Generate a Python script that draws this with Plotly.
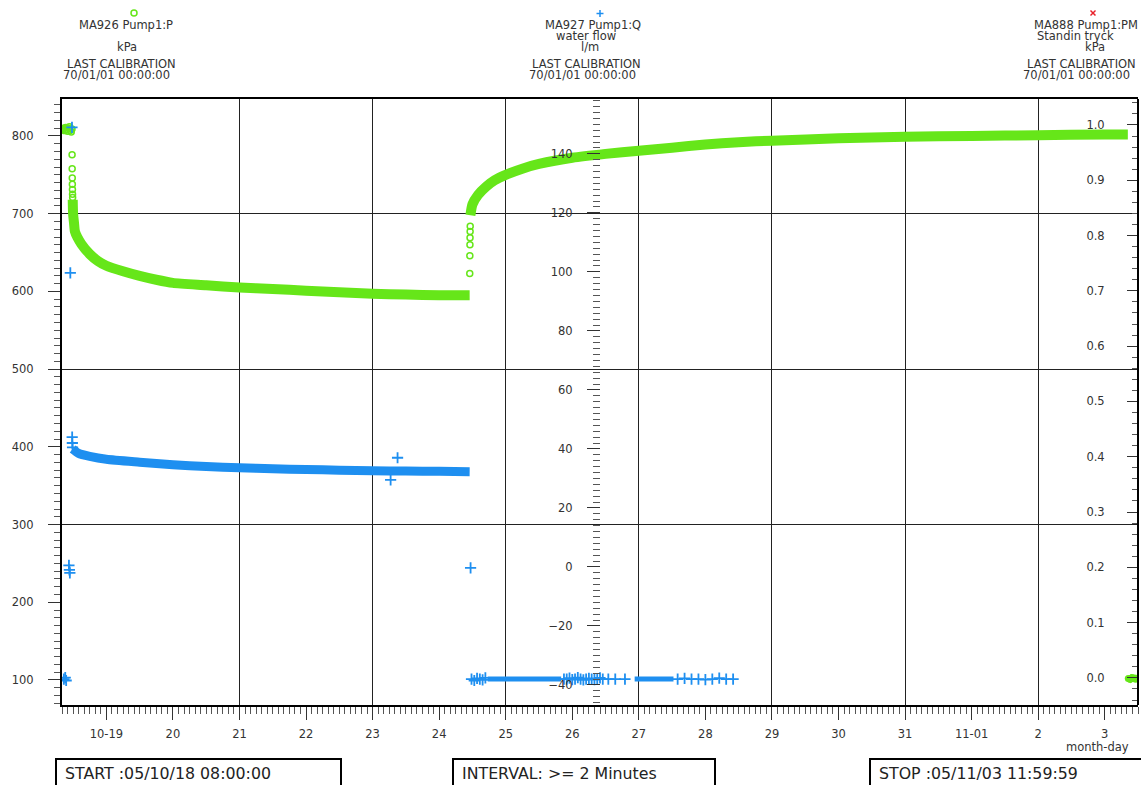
import plotly.graph_objects as go

# ---------------- data ----------------
X_TICKS = ['2005-10-19', '2005-10-20', '2005-10-21', '2005-10-22', '2005-10-23',
           '2005-10-24', '2005-10-25', '2005-10-26', '2005-10-27', '2005-10-28',
           '2005-10-29', '2005-10-30', '2005-10-31', '2005-11-01', '2005-11-02',
           '2005-11-03']
X_LABELS = ['10-19', '20', '21', '22', '23', '24', '25', '26', '27', '28', '29',
            '30', '31', '11-01', '2', '3']
X_GRID = ['2005-10-21', '2005-10-23', '2005-10-25', '2005-10-27', '2005-10-29',
          '2005-10-31', '2005-11-02']
Y_GRID = [300, 500, 700]

# MA926 Pump1:P  (kPa, left axis)
g_start_t = ['2005-10-18 08:00', '2005-10-18 08:20', '2005-10-18 08:40', '2005-10-18 09:00',
             '2005-10-18 09:20', '2005-10-18 09:40', '2005-10-18 10:00', '2005-10-18 10:20',
             '2005-10-18 10:40', '2005-10-18 11:00', '2005-10-18 11:20', '2005-10-18 11:36']
g_start_v = [809, 808, 810, 807, 811, 808, 806, 810, 812, 807, 805, 809]
g_drop_t = ['2005-10-18 11:38', '2005-10-18 11:40', '2005-10-18 11:42', '2005-10-18 11:44',
            '2005-10-18 11:46', '2005-10-18 11:48', '2005-10-18 11:50']
g_drop_v = [776, 758, 746, 738, 731, 725, 721]
g_band1_t = ['2005-10-18 11:52', '2005-10-18 12:00', '2005-10-18 12:20', '2005-10-18 12:40',
             '2005-10-18 13:30', '2005-10-18 15:00', '2005-10-18 18:00', '2005-10-18 21:00',
             '2005-10-19 00:00', '2005-10-19 06:00', '2005-10-19 12:00', '2005-10-19 18:00',
             '2005-10-20 00:00', '2005-10-20 12:00', '2005-10-21 00:00', '2005-10-21 12:00',
             '2005-10-22 00:00', '2005-10-22 12:00', '2005-10-23 00:00', '2005-10-23 12:00',
             '2005-10-24 00:00', '2005-10-24 11:00']
g_band1_v = [718, 700, 688, 677, 670, 661, 648, 639, 633, 626, 620, 615, 611, 608,
             605, 603, 601, 599, 597, 596, 595, 595]
g_jump_t = ['2005-10-24 11:02', '2005-10-24 11:04', '2005-10-24 11:06', '2005-10-24 11:08',
            '2005-10-24 11:10', '2005-10-24 11:12']
g_jump_v = [623, 646, 660, 669, 677, 684]
g_band2_t = ['2005-10-24 11:16', '2005-10-24 12:00', '2005-10-24 14:00', '2005-10-24 17:00',
             '2005-10-24 20:00', '2005-10-25 00:00', '2005-10-25 06:00', '2005-10-25 12:00',
             '2005-10-26 00:00', '2005-10-26 12:00', '2005-10-27 00:00', '2005-10-27 12:00',
             '2005-10-28 00:00', '2005-10-28 12:00', '2005-10-29 00:00', '2005-10-30 00:00',
             '2005-10-31 00:00', '2005-11-01 00:00', '2005-11-02 00:00', '2005-11-03 00:00',
             '2005-11-03 08:20']
g_band2_v = [698, 712, 724, 735, 743, 750, 758, 764, 772, 777, 781, 785, 789, 792,
             794, 797, 799, 800, 801, 802, 802]
g_end_t = ['2005-11-03 08:30', '2005-11-03 09:10', '2005-11-03 09:50', '2005-11-03 10:30',
           '2005-11-03 11:10', '2005-11-03 11:50']
g_end_v = [102, 101, 103, 102, 101, 102]

# MA927 Pump1:Q  water flow (l/m, middle axis)
b_out_t = ['2005-10-18 08:40', '2005-10-18 09:10', '2005-10-18 09:30', '2005-10-18 10:30',
           '2005-10-18 10:40', '2005-10-18 10:50', '2005-10-18 11:00', '2005-10-18 11:36',
           '2005-10-18 11:40', '2005-10-18 11:44', '2005-10-18 11:48']
b_out_v = [-38, -37.5, -38.5, 0.5, -1, -2, 99.7, 149, 44, 42, 40.5]
b_band1_t = ['2005-10-18 11:50', '2005-10-18 14:00', '2005-10-18 18:00', '2005-10-19 00:00',
             '2005-10-19 12:00', '2005-10-20 00:00', '2005-10-20 12:00', '2005-10-21 00:00',
             '2005-10-21 12:00', '2005-10-22 00:00', '2005-10-22 12:00', '2005-10-23 00:00',
             '2005-10-23 12:00', '2005-10-24 00:00', '2005-10-24 11:00']
b_band1_v = [40, 38.5, 37.5, 36.5, 35.5, 34.6, 34, 33.6, 33.3, 33, 32.8, 32.6,
             32.5, 32.4, 32.3]
b_spike_t = ['2005-10-23 06:30', '2005-10-23 09:00', '2005-10-24 11:20']
b_spike_v = [29.5, 37, -0.3]
b_low1_t = ['2005-10-24 17:30', '2005-10-25 06:00', '2005-10-25 20:00']
b_low1_v = [-38, -38, -38]
b_low2_t = ['2005-10-26 22:30', '2005-10-27 06:00', '2005-10-27 12:30']
b_low2_v = [-38, -38, -38]
b_lowx_t = ['2005-10-24 11:40', '2005-10-24 12:40', '2005-10-24 13:40', '2005-10-24 14:40',
            '2005-10-24 15:40', '2005-10-24 16:40',
            '2005-10-25 21:00', '2005-10-25 22:00', '2005-10-25 23:00', '2005-10-26 00:00',
            '2005-10-26 01:00', '2005-10-26 02:00', '2005-10-26 03:00', '2005-10-26 04:00',
            '2005-10-26 05:00', '2005-10-26 06:00', '2005-10-26 07:00', '2005-10-26 08:00',
            '2005-10-26 09:00', '2005-10-26 10:00', '2005-10-26 11:00',
            '2005-10-26 13:00', '2005-10-26 15:30', '2005-10-26 19:00',
            '2005-10-27 14:00', '2005-10-27 16:30', '2005-10-27 19:00', '2005-10-27 21:30',
            '2005-10-28 00:00', '2005-10-28 02:30', '2005-10-28 05:00', '2005-10-28 07:30',
            '2005-10-28 10:00']
b_lowx_v = [-38, -38.5, -37.8, -38, -38.3, -37.6,
            -38, -38, -37.7, -38.2, -38, -37.5, -38, -38.3, -38, -37.8, -38, -38.2,
            -38, -37.6, -38,
            -38, -38, -38,
            -38, -37.8, -38, -38, -38.2, -38, -37.7, -38, -38]

# ---------------- layout helpers ----------------
W, H = 1141, 785
ML, MR, MT, MB = 62, 3, 99, 80
PW, PH = W - ML - MR, H - MT - MB


def px(x):
    return (x - ML) / PW


def py(y):
    return (H - MB - y) / PH


GREEN = '#66E619'
BLUE = '#1E8FF0'
RED = '#E8212A'
FONT = 'DejaVu Sans'
TXT = '#333333'
XR = ['2005-10-18 08:00', '2005-11-03 12:00']
YR = [67.8, 847.6]

fig = go.Figure()


def green_markers(t, v):
    fig.add_trace(go.Scatter(x=t, y=v, mode='markers', yaxis='y',
                             marker=dict(symbol='circle-open', size=6, color=GREEN,
                                         line=dict(width=1.5, color=GREEN))))


def green_band(t, v):
    fig.add_trace(go.Scatter(x=t, y=v, mode='lines', yaxis='y',
                             line=dict(color=GREEN, width=10, shape='spline', smoothing=0.6)))


green_markers(g_start_t, g_start_v)
green_markers(g_drop_t, g_drop_v)
green_band(g_band1_t, g_band1_v)
green_markers(g_jump_t, g_jump_v)
green_band(g_band2_t, g_band2_v)
fig.add_trace(go.Scatter(x=g_end_t, y=g_end_v, mode='lines+markers', yaxis='y',
                         line=dict(color=GREEN, width=7),
                         marker=dict(symbol='circle', size=7, color=GREEN)))


def blue_markers(t, v):
    fig.add_trace(go.Scatter(x=t, y=v, mode='markers', yaxis='y2',
                             marker=dict(symbol='cross-thin-open', size=8, color=BLUE,
                                         line=dict(width=1.8, color=BLUE))))


def blue_band(t, v, w):
    fig.add_trace(go.Scatter(x=t, y=v, mode='lines', yaxis='y2',
                             line=dict(color=BLUE, width=w, shape='spline', smoothing=0.6)))


blue_band(b_band1_t, b_band1_v, 9)
blue_markers(b_out_t, b_out_v)
blue_markers(b_spike_t, b_spike_v)
blue_band(b_low1_t, b_low1_v, 5)
blue_band(b_low2_t, b_low2_v, 5)
blue_markers(b_lowx_t, b_lowx_v)

# helper traces so the grid-only / right axes are drawn
fig.add_trace(go.Scatter(x=[None], y=[None], xaxis='x2', yaxis='y', hoverinfo='skip'))
fig.add_trace(go.Scatter(x=[None], y=[None], xaxis='x', yaxis='y4', hoverinfo='skip'))
fig.add_trace(go.Scatter(x=[None], y=[None], xaxis='x', yaxis='y3', hoverinfo='skip'))

tickfont = dict(family=FONT, size=11.5, color=TXT)

fig.update_layout(
    width=W, height=H, margin=dict(l=ML, r=MR, t=MT, b=MB, pad=0),
    paper_bgcolor='white', plot_bgcolor='white', showlegend=False,
    font=dict(family=FONT, size=11.5, color=TXT),
    xaxis=dict(type='date', range=XR, tickmode='array', tickvals=X_TICKS, ticktext=X_LABELS,
               ticks='outside', ticklen=13, tickwidth=1, tickcolor='#333',
               showline=True, linewidth=2, linecolor='black', mirror=True,
               showgrid=False, zeroline=False, tickfont=tickfont, ticklabelstandoff=4,
               minor=dict(dtick=7200000, tick0='2005-10-19', ticks='outside', ticklen=7,
                          tickwidth=1, tickcolor='#555', showgrid=False)),
    xaxis2=dict(type='date', range=XR, overlaying='x', anchor='y', tickmode='array',
                tickvals=X_GRID, showgrid=True, gridcolor='#222', gridwidth=1,
                showticklabels=False, ticks='', showline=False, zeroline=False),
    yaxis=dict(range=YR, tick0=0, dtick=100, ticks='outside', ticklen=12, tickwidth=1,
               tickcolor='#333', showline=True, linewidth=2, linecolor='black',
               showgrid=False, zeroline=False, tickfont=tickfont, ticklabelstandoff=12,
               minor=dict(dtick=10, tick0=0, ticks='outside', ticklen=6, tickwidth=1,
                          tickcolor='#555', showgrid=False)),
    yaxis4=dict(range=YR, overlaying='y', anchor='x', tickmode='array', tickvals=Y_GRID,
                showgrid=True, gridcolor='#222', gridwidth=1, showticklabels=False,
                ticks='', showline=False, zeroline=False),
    yaxis2=dict(range=[-46.8, 158.6], overlaying='y', anchor='free', position=px(600),
                side='left', tick0=0, dtick=20, ticks='outside', ticklen=13, tickwidth=1,
                tickcolor='#333', showline=False, showgrid=False, zeroline=False,
                tickfont=tickfont, ticklabelstandoff=12,
                minor=dict(dtick=2, tick0=0, ticks='outside', ticklen=7, tickwidth=1,
                           tickcolor='#555', showgrid=False)),
    yaxis3=dict(range=[-0.049, 1.047], overlaying='y', anchor='free', position=1.0,
                side='left', tick0=0, dtick=0.1, tickformat='.1f', ticks='outside',
                ticklen=10, tickwidth=1, tickcolor='#333',
                showline=True, linewidth=2, linecolor='black', showgrid=False,
                zeroline=False, tickfont=tickfont, ticklabelstandoff=20,
                minor=dict(dtick=0.02, tick0=0, ticks='outside', ticklen=5, tickwidth=1,
                           tickcolor='#555', showgrid=False)),
)

# header texts
HEAD = [
    ('MA926 Pump1:P', 126, 25), ('kPa', 127, 47), ('LAST CALIBRATION', 121, 64),
    ('70/01/01 00:00:00', 116, 75),
    ('MA927 Pump1:Q', 593, 25), ('water flow', 586, 36), ('l/m', 590, 47),
    ('LAST CALIBRATION', 586, 64), ('70/01/01 00:00:00', 582, 75),
    ('MA888 Pump1:PM', 1086, 25), ('Standin tryck', 1075, 36), ('kPa', 1095, 47),
    ('LAST CALIBRATION', 1081, 64), ('70/01/01 00:00:00', 1076, 75),
    ('month-day', 1097, 747),
]
for txt, x, y in HEAD:
    fig.add_annotation(text=txt, x=px(x), y=py(y), xref='paper', yref='paper',
                       xanchor='center', yanchor='middle', showarrow=False,
                       font=dict(family=FONT, size=11.5, color=TXT))

# legend symbols in the header (drawn as small shapes)
fig.add_shape(type='circle', xref='paper', yref='paper', x0=px(131), x1=px(137),
              y0=py(16), y1=py(10), line=dict(color=GREEN, width=1.5))
fig.add_shape(type='line', xref='paper', yref='paper', x0=px(596.5), x1=px(603.5),
              y0=py(13.5), y1=py(13.5), line=dict(color=BLUE, width=1.5))
fig.add_shape(type='line', xref='paper', yref='paper', x0=px(600), x1=px(600),
              y0=py(10), y1=py(17), line=dict(color=BLUE, width=1.5))
fig.add_shape(type='line', xref='paper', yref='paper', x0=px(1090.5), x1=px(1095.5),
              y0=py(10.5), y1=py(15.5), line=dict(color=RED, width=1.5))
fig.add_shape(type='line', xref='paper', yref='paper', x0=px(1090.5), x1=px(1095.5),
              y0=py(15.5), y1=py(10.5), line=dict(color=RED, width=1.5))

# bottom info boxes
BOXES = [('START :05/10/18 08:00:00', 56, 341, 63),
         ('INTERVAL: >= 2 Minutes', 453, 715, 460),
         ('STOP :05/11/03 11:59:59', 870, 1143, 877)]
for txt, x0, x1, tx in BOXES:
    fig.add_shape(type='rect', xref='paper', yref='paper', x0=px(x0), x1=px(x1),
                  y0=py(792), y1=py(759), line=dict(color='black', width=2))
    fig.add_annotation(text=txt, x=px(tx), y=py(773), xref='paper', yref='paper',
                       xanchor='left', yanchor='middle', showarrow=False,
                       font=dict(family=FONT, size=15.8, color='#222'))

fig.write_html('out.html')
